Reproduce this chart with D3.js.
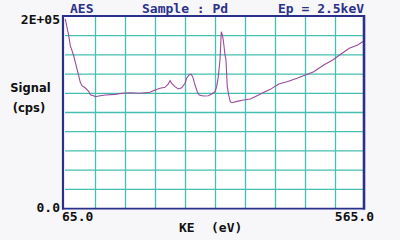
<!DOCTYPE html>
<html><head><meta charset="utf-8">
<script src="https://cdn.jsdelivr.net/npm/d3@7/dist/d3.min.js"></script>
<style>html,body{margin:0;padding:0;background:#f7f7f9;}svg{display:block;}</style>
</head><body>
<script>
const energy = [65.5,68.3,71.2,73.8,76.7,79.5,82.2,85,87.8,90.5,93.3,98.8,104.5,107.2,112.8,115.5,121.2,132.2,148.8,160,173.3,190,206.7,212.2,223.3,231.7,237.2,240,242.8,248.3,253.8,259.5,265,267.8,271.7,275,277.8,281.7,285.5,288.8,295.5,303.8,309.5,315,317.8,320.5,323.3,325.5,327.2,328.8,331.7,333.3,335.5,337.8,340.5,343.3,351.7,362.8,373.8,385,393.3,407.2,421.2,435,451.7,465.5,479.5,496.2,511.2,525,538.8,552.8,561.2,563];
const signal = [196.9,188.2,179.5,169.1,163.9,158.6,151.8,144.8,137.8,130.9,127.4,125,121.6,118,117,115.9,116.7,117.7,118.4,119.5,120.1,119.5,120.5,122.2,124.7,125.7,129.2,132.6,129.9,126.4,124,125.3,129.9,135.1,138.5,139.3,136.8,128.1,121.1,117.7,116.7,117,118.8,121.1,126.4,136.8,154.2,183.6,180.2,175,159.4,154.2,126.4,117.7,110.7,109.7,111.1,112.5,113.5,117,119.5,123.6,129.2,131.6,135.1,138.5,142,148.9,154.2,160.4,166.4,169.8,173.2,174].map(v => v * 1000);
const xGridTicks = [115,165,215,265,315,365,415,465,515];
const yGridTicks = [20000,40000,60000,80000,100000,120000,140000,160000,180000];
const xTickLabels = [{v:65, t:"65.0"},{v:565, t:"565.0"}];
const yTickLabels = [{v:0, t:"0.0"},{v:200000, t:"2E+05"}];
const titleParts = ["AES","Sample : Pd","Ep = 2.5keV"];

const W = 400, H = 240;
const svg = d3.select("body").append("svg").attr("width", W).attr("height", H);
svg.append("rect").attr("width", W).attr("height", H).attr("fill", "#f7f7f9");

const x = d3.scaleLinear().domain([65, 565]).range([65, 365]);
const y = d3.scaleLinear().domain([0, 200000]).range([208, 16]);

svg.append("rect").attr("x", 63).attr("y", 16).attr("width", 301).attr("height", 192).attr("fill", "#ffffff");

const grid = "#45bfb2";
const gx = svg.append("g").attr("transform", "translate(0,208)")
  .call(d3.axisBottom(x).tickValues(xGridTicks).tickSize(-192).tickFormat(""));
gx.select(".domain").remove();
gx.selectAll("line").attr("stroke", grid).attr("stroke-width", 1.3);
const gy = svg.append("g").attr("transform", "translate(65,0)")
  .call(d3.axisLeft(y).tickValues(yGridTicks).tickSize(-299).tickFormat(""));
gy.select(".domain").remove();
gy.selectAll("line").attr("stroke", grid).attr("stroke-width", 1.3);

const line = d3.line().x((d,i) => x(energy[i])).y(d => y(d));
svg.append("path").datum(signal).attr("d", line).attr("fill", "none")
  .attr("stroke", "#9a4b9c").attr("stroke-width", 1.1);

const navy = "#2b318a";
svg.append("line").attr("x1", 63).attr("x2", 63).attr("y1", 15).attr("y2", 209.5).attr("stroke", navy).attr("stroke-width", 2.2);
svg.append("line").attr("x1", 364).attr("x2", 364).attr("y1", 15).attr("y2", 209.5).attr("stroke", navy).attr("stroke-width", 2.6);
svg.append("line").attr("x1", 62).attr("x2", 365).attr("y1", 16).attr("y2", 16).attr("stroke", navy).attr("stroke-width", 2);
svg.append("line").attr("x1", 62).attr("x2", 365).attr("y1", 208.6).attr("y2", 208.6).attr("stroke", navy).attr("stroke-width", 1.8);

const mono = "'DejaVu Sans Mono', monospace";
const tx = [70, 142, 278];
svg.selectAll(".title").data(titleParts).enter().append("text")
  .attr("x", (d,i) => tx[i]).attr("y", 13).text(d => d)
  .attr("font-family", mono).attr("font-weight", "bold").attr("font-size", 13).attr("fill", navy)
  .attr("xml:space", "preserve");

svg.selectAll(".ylab").data(yTickLabels).enter().append("text")
  .attr("x", 60).attr("y", d => y(d.v) + (d.v === 0 ? 3.5 : 8))
  .attr("text-anchor", "end").text(d => d.t)
  .attr("font-family", mono).attr("font-weight", "bold").attr("font-size", 13).attr("fill", "#111");

svg.selectAll(".xlab").data(xTickLabels).enter().append("text")
  .attr("x", d => d.v === 65 ? x(d.v) - 3 : x(d.v) + 9).attr("y", 221)
  .attr("text-anchor", d => d.v === 65 ? "start" : "end").text(d => d.t)
  .attr("font-family", mono).attr("font-weight", "bold").attr("font-size", 13).attr("fill", "#111");

svg.append("text").attr("x", 179).attr("y", 231.5).text("KE")
  .attr("font-family", mono).attr("font-weight", "bold").attr("font-size", 13).attr("fill", "#111");
svg.append("text").attr("x", 211).attr("y", 231.5).text("(eV)")
  .attr("font-family", mono).attr("font-weight", "bold").attr("font-size", 13).attr("fill", "#111");

svg.append("text").attr("x", 30.5).attr("y", 92).attr("text-anchor", "middle").text("Signal")
  .attr("font-family", "'DejaVu Sans', sans-serif").attr("font-weight", "bold").attr("font-size", 11.5).attr("fill", "#111");
svg.append("text").attr("x", 29).attr("y", 112).attr("text-anchor", "middle").text("(cps)")
  .attr("font-family", "'DejaVu Sans', sans-serif").attr("font-weight", "bold").attr("font-size", 11.5).attr("fill", "#111");
</script>
</body></html>
